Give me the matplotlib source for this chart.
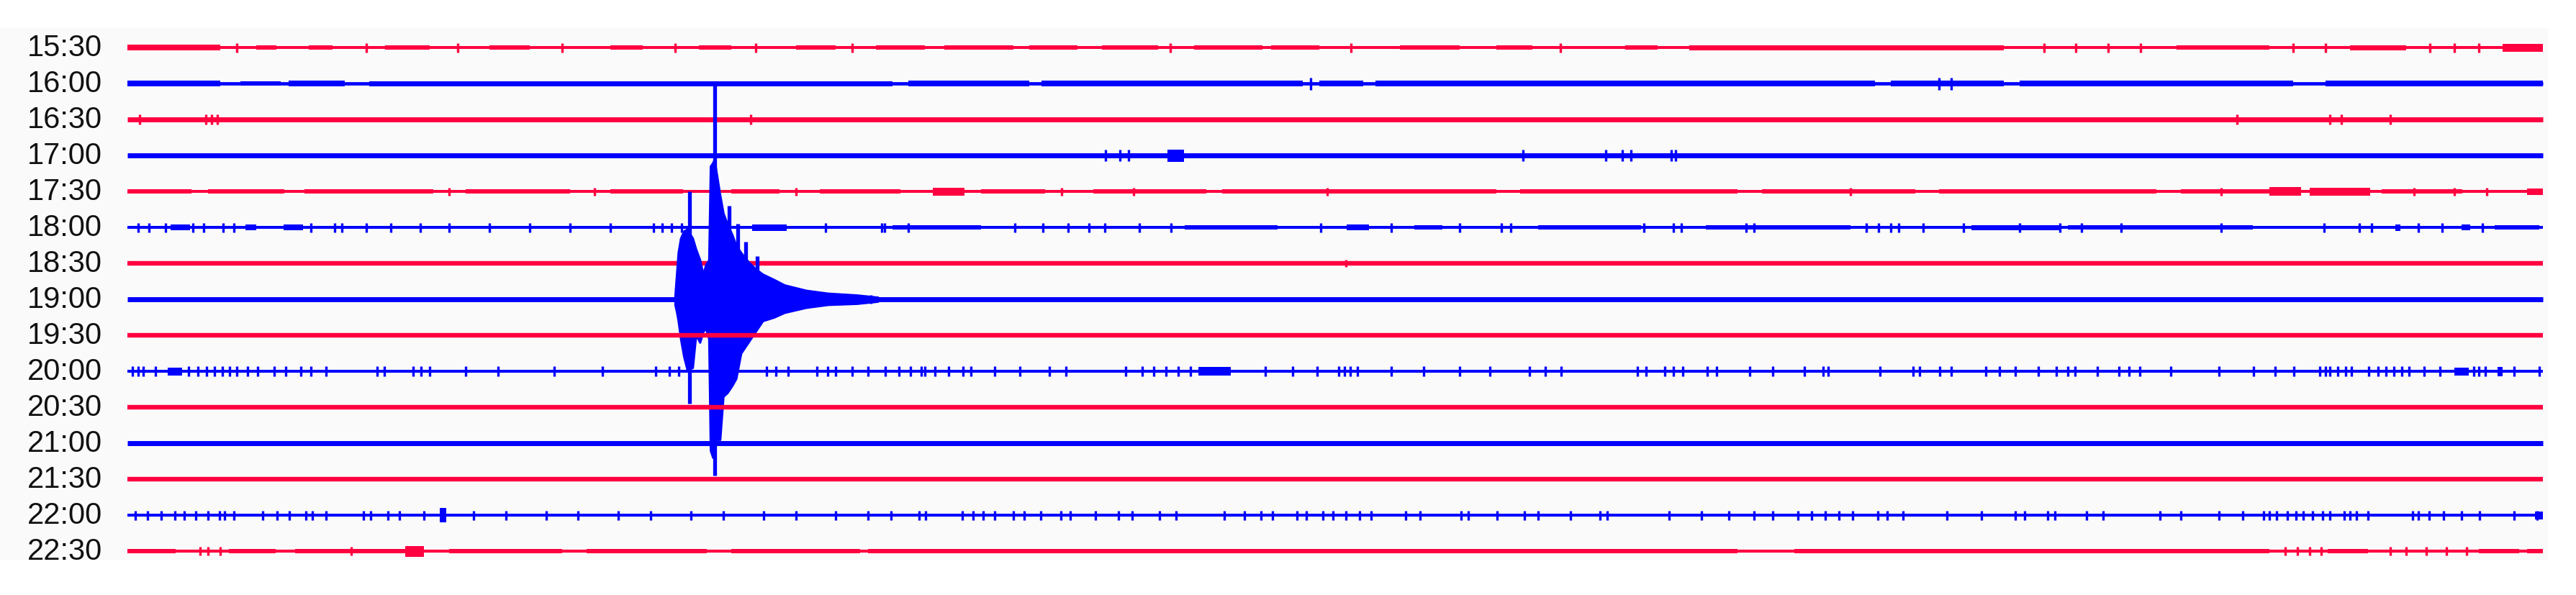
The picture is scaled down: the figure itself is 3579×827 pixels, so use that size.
import matplotlib
matplotlib.use("Agg")
import matplotlib.pyplot as plt

# helicorder rows, 30 minutes each; time axis in minutes, amplitude in row spacings
rows = ["15:30", "16:00", "16:30", "17:00", "17:30", "18:00", "18:30", "19:00",
        "19:30", "20:00", "20:30", "21:00", "21:30", "22:00", "22:30"]

# small spikes on each trace (minute of the row)
ticks_1530 = [1.36, 2.97, 4.1, 5.4, 6.8, 7.8, 9.0, 12.95, 15.2, 17.8, 23.8, 24.2, 24.6,
              25.0, 26.9, 27.3, 28.6, 28.9, 29.2]
ticks_1600 = [14.7, 22.5, 22.65]
ticks_1630 = [0.15, 0.97, 1.05, 1.12, 7.74, 26.2, 27.35, 27.5, 28.1]
ticks_1700 = [12.15, 12.33, 12.43, 17.33, 18.36, 18.57, 18.67, 19.17, 19.23]
ticks_1730 = [4.0, 5.8, 8.3, 11.6, 12.5, 14.9, 21.4, 26.0, 28.4, 28.9, 29.3]
ticks_1800 = [0.13, 0.27, 0.47, 0.81, 0.95, 1.19, 1.32, 2.28, 2.57, 2.66, 2.97, 3.27, 3.64,
              4.0, 4.5, 5.0, 5.5, 6.0, 6.53, 6.64, 6.76, 6.88, 8.67, 9.37, 9.4, 9.7, 11.02,
              11.37, 11.68, 11.94, 12.14, 12.57, 12.96, 14.82, 15.7, 16.55, 17.06, 17.18,
              18.83, 19.2, 19.3, 20.1, 20.2, 21.6, 21.75, 21.9, 22.0, 22.3, 22.8, 23.5,
              24.0, 24.27, 24.76, 26.0, 27.28, 27.72, 27.87, 28.45, 28.75, 29.25]
ticks_1830 = [15.13]
ticks_1900 = [9.23]
ticks_1930 = []
ticks_2000 = [0.06, 0.13, 0.2, 0.35, 0.76, 0.88, 0.98, 1.08, 1.18, 1.27, 1.36, 1.49, 1.62,
              1.82, 1.97, 2.15, 2.28, 2.47, 3.1, 3.19, 3.55, 3.65, 3.75, 4.2, 4.6, 5.3, 5.9,
              6.56, 6.73, 6.85, 7.94, 8.05, 8.21, 8.56, 8.7, 8.8, 9.0, 9.2, 9.41, 9.58,
              9.73, 9.86, 9.9, 10.03, 10.2, 10.38, 10.48, 10.77, 11.08, 11.45, 11.66,
              12.4, 12.6, 12.75, 12.9, 13.05, 13.2, 14.13, 14.47, 14.78, 15.04, 15.12,
              15.19, 15.28, 15.7, 16.1, 16.55, 16.92, 17.41, 17.61, 17.81, 18.75, 18.86,
              19.09, 19.2, 19.32, 19.62, 19.74, 20.15, 20.43, 20.83, 21.06, 21.12, 21.77,
              22.18, 22.26, 22.51, 22.65, 23.08, 23.25, 23.45, 23.73, 23.96, 24.1, 24.19,
              24.47, 24.73, 24.86, 24.99, 25.38, 25.98, 26.41, 26.67, 26.91, 27.23, 27.3,
              27.35, 27.45, 27.55, 27.62, 27.84, 27.95, 28.05, 28.15, 28.25, 28.34,
              28.52, 28.72, 29.14, 29.2, 29.28, 29.64, 29.95]
ticks_2030 = []
ticks_2100 = []
ticks_2130 = []
ticks_2200 = [0.10, 0.25, 0.42, 0.59, 0.71, 0.85, 1.0, 1.14, 1.21, 1.32, 1.68, 1.86, 2.01,
              2.22, 2.30, 2.47, 2.93, 3.02, 3.24, 3.38, 3.68, 4.3, 4.7, 5.2, 5.6, 6.1, 6.5,
              7.0, 7.4, 7.9, 8.3, 8.8, 9.2, 9.48, 9.83, 9.91, 10.37, 10.5, 10.63, 10.77,
              11.0, 11.14, 11.34, 11.59, 11.71, 12.02, 12.31, 12.48, 12.82, 13.02, 13.62,
              13.87, 14.08, 14.22, 14.53, 14.64, 14.85, 14.97, 15.13, 15.30, 15.45, 15.88,
              16.05, 16.56, 16.65, 17.01, 17.35, 17.52, 17.92, 18.29, 18.38, 19.15, 19.55,
              19.89, 20.20, 20.43, 20.75, 20.92, 21.09, 21.26, 21.43, 21.74, 21.86, 22.05,
              22.60, 23.03, 23.45, 23.56, 23.85, 23.94, 24.33, 24.54, 25.24, 25.50, 25.98,
              26.27, 26.53, 26.6, 26.69, 26.83, 26.93, 27.02, 27.14, 27.26, 27.35, 27.53,
              27.6, 27.68, 27.83, 28.38, 28.45, 28.59, 28.77, 28.99, 29.21, 29.64, 29.93]
ticks_2230 = [0.9, 1.0, 1.15, 2.78, 26.8, 26.95, 27.1, 27.25, 28.1, 28.3, 28.55, 28.8, 29.05]

tick_amp = [0.13, 0.17, 0.14, 0.16, 0.11, 0.13, 0.1, 0.12, 0.08, 0.14, 0.08, 0.08, 0.08,
            0.13, 0.12]

# busier stretches of the traces: (start, end, half amplitude)
bands_1530 = [(0, 1.15, .08), (1.6, 1.85, .065), (2.25, 2.55, .065), (3.2, 3.75, .065),
              (4.5, 5.0, .06), (6.0, 6.4, .06), (7.1, 7.5, .06), (8.3, 8.8, .06),
              (9.3, 9.9, .065), (10.15, 11.0, .065), (11.2, 11.8, .065), (12.1, 12.8, .065),
              (13.25, 14.1, .065), (14.2, 14.8, .065), (15.8, 16.55, .065), (17.0, 17.45, .065),
              (18.6, 19.0, .065), (19.4, 23.3, .07), (25.45, 26.6, .065), (27.6, 28.3, .07),
              (29.5, 30.0, .11)]
bands_1600 = [(0, 1.15, .075), (1.4, 1.9, .065), (2.0, 2.7, .075), (3.0, 9.5, .07),
              (9.7, 11.2, .075), (11.35, 14.6, .075), (14.8, 15.35, .075), (15.5, 21.7, .075),
              (21.9, 23.3, .075), (23.5, 26.9, .075), (27.3, 30.0, .075)]
bands_1630 = []
bands_1700 = [(12.92, 13.12, .17)]
bands_1730 = [(0, 0.8, .065), (1.0, 1.95, .065), (2.2, 3.8, .065), (4.2, 5.5, .06),
              (6.0, 6.9, .06), (7.5, 8.1, .065), (8.6, 9.6, .06), (10.0, 10.4, .11),
              (10.6, 11.4, .06), (12.0, 13.4, .065), (13.6, 17.0, .065), (17.3, 20.0, .065),
              (20.3, 22.2, .065), (22.5, 25.2, .065), (25.5, 26.6, .065), (26.6, 27.0, .12),
              (27.1, 27.85, .11), (28.0, 29.0, .055), (29.8, 30.0, .09)]
bands_1800 = [(0.54, 0.78, .08), (1.47, 1.6, .08), (1.94, 2.18, .08), (7.76, 8.19, .09),
              (9.5, 10.6, .06), (13.13, 14.28, .065), (15.14, 15.42, .08), (15.98, 16.33, .065),
              (17.52, 18.8, .065), (19.6, 21.4, .065), (22.9, 24.0, .07), (24.1, 26.4, .06),
              (28.17, 28.23, .09), (28.99, 29.1, .08), (29.4, 29.95, .06)]
bands_1830 = []
bands_1900 = []
bands_1930 = []
bands_2000 = [(0.5, 0.68, .11), (13.3, 13.7, .12), (28.9, 29.08, .11), (29.44, 29.5, .13)]
bands_2030 = []
bands_2100 = []
bands_2130 = []
bands_2200 = [(3.88, 3.96, .2), (29.9, 30.0, .11)]
bands_2230 = [(0, 0.6, .065), (1.26, 1.84, .065), (2.08, 3.45, .065), (3.45, 3.68, .15),
              (4.0, 5.4, .06), (5.7, 7.2, .06), (7.5, 9.1, .06), (9.2, 17.9, .065),
              (17.9, 20.0, .065), (20.7, 26.6, .065), (27.33, 27.83, .065), (29.2, 29.7, .065),
              (29.8, 30.0, .065)]

# earthquake on the 19:00 row: envelope above / below the trace
quake_t = [6.80, 6.82, 6.84, 6.87, 6.91, 6.95, 7.02, 7.06, 7.11, 7.15, 7.18, 7.22, 7.24,
           7.27, 7.29, 7.31, 7.36, 7.40, 7.45, 7.51, 7.56, 7.62, 7.71, 7.80, 7.89, 8.03,
           8.16, 8.43, 8.70, 9.06, 9.32]
quake_up = [0.1, 0.7, 1.3, 1.7, 1.9, 1.95, 1.7, 1.4, 1.1, 0.7, 0.95, 1.1, 3.7, 3.8, 3.9,
            3.6, 2.9, 2.4, 2.1, 1.8, 1.5, 1.3, 1.05, 0.85, 0.7, 0.55, 0.4, 0.25, 0.17, 0.12,
            0.06]
quake_dn = [0.15, 0.35, 0.6, 1.1, 1.6, 1.95, 1.9, 1.0, 1.2, 0.9, 0.8, 1.1, 4.2, 4.4, 4.1,
            3.9, 3.9, 2.7, 2.6, 2.4, 2.2, 1.5, 1.2, 0.9, 0.6, 0.5, 0.37, 0.23, 0.15, 0.12,
            0.06]
spike_t = [6.98, 7.29, 7.47, 7.58, 7.68, 7.82]
spike_up = [3.0, 6.0, 2.6, 2.1, 1.6, 1.2]
spike_dn = [2.9, 4.9, 2.4, 1.5, 1.0, 0.6]

ticks = [ticks_1530, ticks_1600, ticks_1630, ticks_1700, ticks_1730, ticks_1800, ticks_1830,
         ticks_1900, ticks_1930, ticks_2000, ticks_2030, ticks_2100, ticks_2130, ticks_2200,
         ticks_2230]
bands = [bands_1530, bands_1600, bands_1630, bands_1700, bands_1730, bands_1800, bands_1830,
         bands_1900, bands_1930, bands_2000, bands_2030, bands_2100, bands_2130, bands_2200,
         bands_2230]

red = "#ff0040"
blue = "#0000ff"
# line width of each trace in points
base_lw = [2.9, 3.4, 5.0, 5.0, 2.9, 2.9, 4.6, 5.0, 4.6, 2.9, 4.6, 5.0, 4.6, 2.9, 3.0]

fig = plt.figure(figsize=(35.8, 8.28), dpi=100)
ax = fig.add_axes([0, 48 / 828, 3540 / 3580, 740 / 828])
ax.set_facecolor("#fafafa")

for i, lab in enumerate(rows):
    c = red if i % 2 == 0 else blue
    z = 2 + i
    ax.hlines(i, 0, 30, color=c, lw=base_lw[i], zorder=z)
    for t0, t1, a in bands[i]:
        ax.fill_between([t0, t1], [i - a, i - a], [i + a, i + a], color=c, lw=0, zorder=z)
    if ticks[i]:
        ax.vlines(ticks[i], i - tick_amp[i], i + tick_amp[i], color=c, lw=2.4, zorder=z)
    ax.text(-0.313, i, lab, ha="right", va="center", fontsize=30,
            family="Liberation Sans", color="#111111")

# the quake, drawn with the 19:00 trace
q = rows.index("19:00")
ax.fill_between(quake_t, [q - u for u in quake_up], [q + d for d in quake_dn],
                color=blue, lw=2.0, zorder=2 + q)
ax.vlines(spike_t, [q - u for u in spike_up], [q + d for d in spike_dn],
          color=blue, lw=3.8, zorder=2 + q)

ax.set_xlim(-177 / 111.87, (3540 - 177) / 111.87)
ax.set_ylim(14.26, -0.54)
ax.set_xticks([])
ax.set_yticks([])
for s in ax.spines.values():
    s.set_visible(False)

fig.savefig("out.png", dpi=100, facecolor="white")
